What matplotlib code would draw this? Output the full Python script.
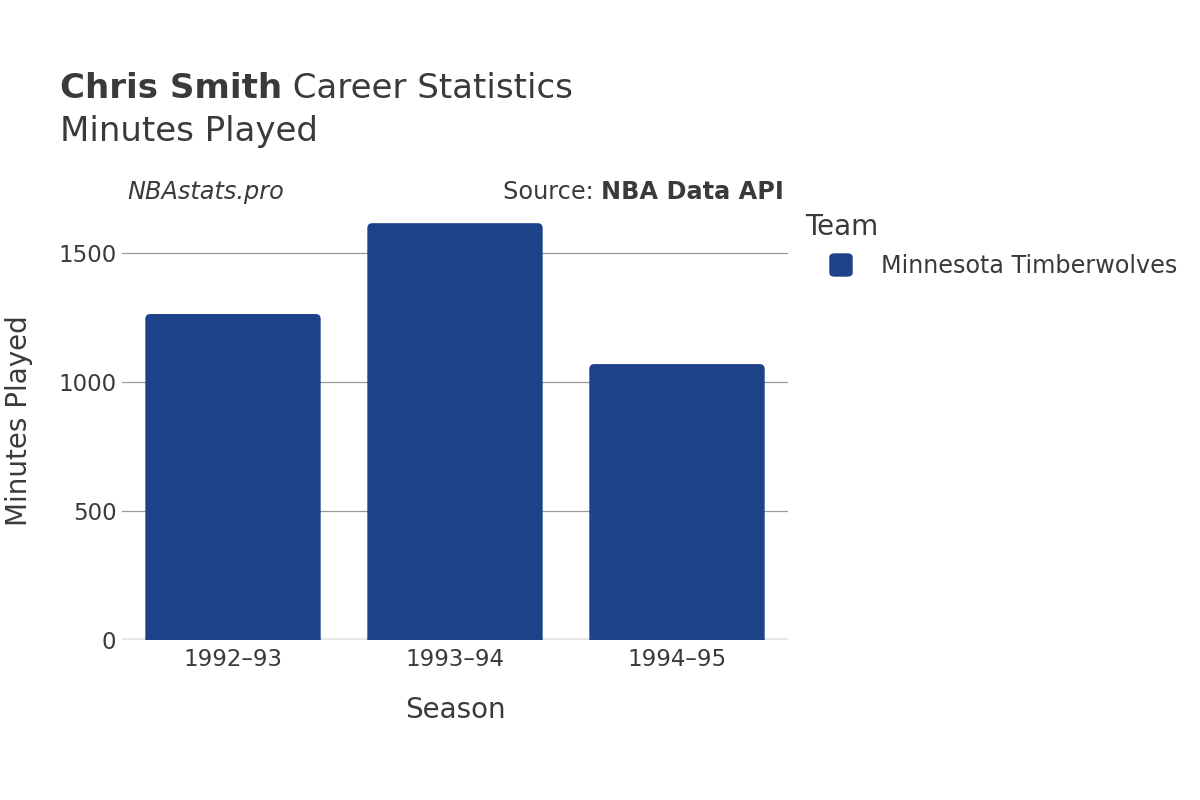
import numpy as np
import matplotlib
matplotlib.use('Agg')
import matplotlib.pyplot as plt
from matplotlib.patches import FancyBboxPatch

# Data
seasons = ['1992–93', '1993–94', '1994–95']
minutes = [1263, 1615, 1069]
team = 'Minnesota Timberwolves'
yticks = [0, 500, 1000, 1500]

bar_color = '#1d428a'
txt = '#3a3a3a'

plt.rcParams['font.family'] = ['DejaVu Sans']

fig = plt.figure(figsize=(12, 8), dpi=100)
ax = fig.add_axes([122/1200, 160/800, (788-122)/1200, (640-202)/800])

x = np.arange(len(seasons))
ax.set_xlim(-0.5, 2.5)
ax.set_ylim(0, 1697)

# rounded-top bars: work out the data->pixel aspect so corners look round
fig.canvas.draw()
px_x = ax.transData.transform((1, 0))[0] - ax.transData.transform((0, 0))[0]
px_y = ax.transData.transform((0, 1))[1] - ax.transData.transform((0, 0))[1]
aspect = px_x / px_y
w = 0.79
r = 5 / px_x
for xi, m in zip(x, minutes):
    p = FancyBboxPatch((xi - w/2, -30), w, m + 30,
                       boxstyle='round,pad=0,rounding_size=%f' % r,
                       mutation_aspect=aspect, facecolor=bar_color,
                       edgecolor='none', zorder=3)
    ax.add_patch(p)

ax.set_yticks(yticks)
ax.set_yticklabels([str(t) for t in yticks])
ax.set_xticks(x)
ax.set_xticklabels(seasons)
ax.tick_params(axis='both', length=0, labelsize=16.5, colors=txt)
ax.tick_params(axis='y', pad=4)
ax.tick_params(axis='x', pad=6)
for s in ax.spines.values():
    s.set_visible(False)
ax.grid(axis='y', color='#999999', linewidth=0.9, zorder=0)
ax.axhline(0, color='#e6e6e6', linewidth=3.5, zorder=2)

ax.set_xlabel('Season', fontsize=20, color=txt, labelpad=18)
ax.set_ylabel('Minutes Played', fontsize=20, color=txt, labelpad=18)

# Titles
t1 = fig.text(60/1200, 1-88/800, 'Chris Smith', fontsize=24.5, color=txt, va='center',
              ha='left', fontweight='bold')
fig.canvas.draw()
bb = t1.get_window_extent()
fig.text(bb.x1/1200, 1-88/800, ' Career Statistics', fontsize=24.5, color=txt, va='center', ha='left')
fig.text(60/1200, 1-132/800, 'Minutes Played', fontsize=24.5, color=txt, va='center', ha='left')

fig.text(127/1200, 1-192/800, 'NBAstats.pro', fontsize=17.3, color=txt, style='italic',
         va='center', ha='left')
s2 = fig.text(784/1200, 1-192/800, 'NBA Data API', fontsize=17.3, color=txt, fontweight='bold',
              va='center', ha='right')
fig.canvas.draw()
bb2 = s2.get_window_extent()
fig.text(bb2.x0/1200, 1-192/800, 'Source: ', fontsize=17.3, color=txt, va='center', ha='right')

# Legend
fig.text(805/1200, 1-227/800, 'Team', fontsize=20, color=txt, va='center', ha='left')
fig.patches.append(FancyBboxPatch((830/1200, 1-276/800), 22/1200, 22/800,
                                  boxstyle='round,pad=0,rounding_size=0.004',
                                  transform=fig.transFigure, color=bar_color, figure=fig))
fig.text(881/1200, 1-266/800, team, fontsize=17.2, color=txt, va='center', ha='left')

fig.savefig('out.png', dpi=100, facecolor='white')
